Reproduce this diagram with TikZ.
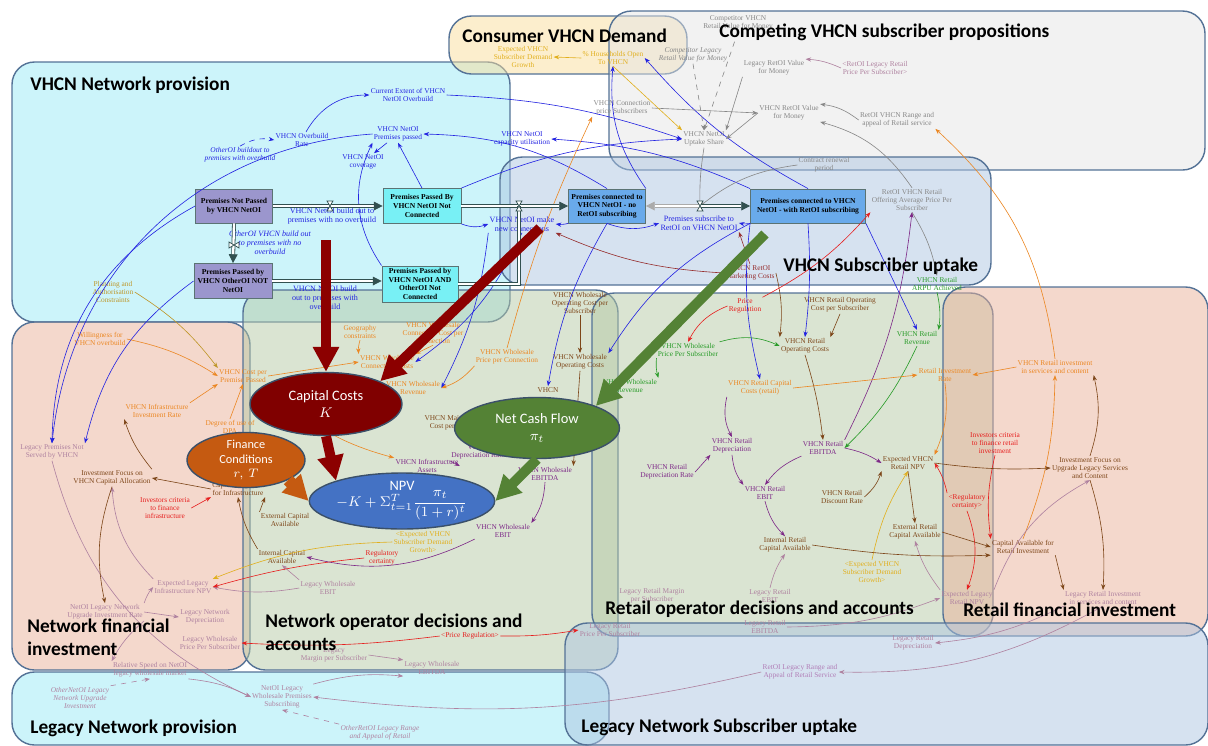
\documentclass[tikz,border=0pt]{standalone}
\usepackage{fontspec}
\usepackage{amsmath}
\setmainfont{Liberation Serif}
\newfontfamily\titlefont{Carlito}
\usetikzlibrary{shapes.geometric,arrows.meta}

\definecolor{provcyan}{RGB}{153,233,245}
\definecolor{demandtan}{RGB}{249,221,155}
\definecolor{compgray}{RGB}{229,229,229}
\definecolor{uptakeblue}{RGB}{173,197,225}
\definecolor{finsalmon}{RGB}{233,177,153}
\definecolor{opsgreen}{RGB}{181,201,165}
\definecolor{secline}{RGB}{84,114,150}
\definecolor{vblue}{RGB}{35,35,225}
\definecolor{vorange}{RGB}{235,135,35}
\definecolor{vbrown}{RGB}{125,70,25}
\definecolor{vpurple}{RGB}{125,40,135}
\definecolor{vgray}{RGB}{135,135,135}
\definecolor{vpink}{RGB}{175,130,160}
\definecolor{vred}{RGB}{230,30,30}
\definecolor{vgreen}{RGB}{40,155,40}
\definecolor{vyellow}{RGB}{225,175,30}
\definecolor{volive}{RGB}{190,150,40}
\definecolor{vdred}{RGB}{150,45,45}
\definecolor{capred}{RGB}{128,0,0}
\definecolor{arrowred}{RGB}{140,0,0}
\definecolor{cashgreen}{RGB}{84,130,53}
\definecolor{npvblue}{RGB}{68,114,196}
\definecolor{finorange}{RGB}{197,90,17}
\definecolor{stockpurple}{RGB}{155,150,205}
\definecolor{stockcyan}{RGB}{120,240,245}
\definecolor{stockblue}{RGB}{105,170,235}
\definecolor{pipeline}{RGB}{50,80,80}

\newcommand\varsize{\fontsize{4.2}{4.7}\selectfont}

\tikzset{
  valve/.pic={\draw[pipeline, fill=white, line width=0.4pt] (-3,-5) -- (3,-5) -- (-3,5) -- (3,5) -- cycle;}
}

\begin{document}
\begin{tikzpicture}[x=0.02cm, y=-0.02cm,
    sector/.style={draw=secline, line width=0.8pt, rounded corners=0.45cm, fill opacity=0.5},
    var/.style={font=\varsize, align=center, inner sep=0.6pt},
    ivar/.style={var, font=\varsize\itshape},
    flowlbl/.style={var, text=vblue, font=\fontsize{4.6}{5.2}\selectfont},
    stock/.style={draw=pipeline!80, line width=0.5pt, font=\bfseries\fontsize{4.3}{5}\selectfont, align=center, inner sep=1pt},
    pipe/.style={draw=pipeline, double=white, double distance=1.3pt, line width=0.45pt, -{Triangle[length=5pt,width=5pt]}},
    link/.style={line width=0.35pt, -{Stealth[length=3.2pt,width=2.4pt]}},
    factor/.style={ellipse, draw=secline!70!black, line width=0.8pt, text=white, font=\titlefont\fontsize{8.2}{9.8}\selectfont, align=center, inner sep=0pt},
    bigarrow/.style={line width=0.2cm, -{Triangle[length=0.5cm,width=0.5cm]}},
    sectortitle/.style={font=\titlefont\bfseries\fontsize{11}{13}\selectfont, anchor=west, align=left, inner sep=0pt}]
   \useasboundingbox (0,0) rectangle (1208,745);

   % sectors
   \draw[sector, fill=provcyan] (12,62) rectangle (510,322);
   \draw[sector, fill=demandtan] (449,16) rectangle (687,74);
   \draw[sector, fill=compgray] (609,11) rectangle (1205,170);
   \draw[sector, fill=uptakeblue] (500,157) rectangle (991,285);
   \draw[sector, fill=finsalmon] (12,322) rectangle (250,670);
   \draw[sector, fill=opsgreen] (243,290) rectangle (618,670);
   \draw[sector, fill=opsgreen] (592,293) rectangle (993,636);
   \draw[sector, fill=finsalmon] (943,287) rectangle (1208,636);
   \draw[sector, fill=provcyan] (12,672) rectangle (609,745);
   \draw[sector, fill=uptakeblue] (565,623) rectangle (1208,745);

   % VHCN network provision
   \node[var, text=vblue] (extent) at (408,95) {Current Extent of VHCN\\NetOI Overbuild};
   \node[var, text=vblue] (ovrate) at (302,140) {VHCN Overbuild\\Rate};
   \node[var, text=vblue] (passed) at (398,134) {VHCN NetOI\\Premises passed};
   \node[var, text=vblue] (coverage) at (363,162) {VHCN NetOI\\coverage};
   \node[var, text=vblue] (capacity) at (522,139) {VHCN NetOI\\capacity utilisation};
   \node[ivar, text=vblue] (otherover) at (240,155) {OtherOI buildout to\\premises with overbuild};
   \node[flowlbl] (buildno) at (332,216) {VHCN NetOI build out to\\premises with no overbuild};
   \node[flowlbl, font=\fontsize{4.6}{5.2}\selectfont\itshape] (otherno) at (270,243) {OtherOI VHCN build out\\to premises with no\\overbuild};
   \node[flowlbl] (buildover) at (325,298) {VHCN NetOI build\\out to premises with\\overbuild};
   \node[flowlbl] (makenew) at (522,224) {VHCN NetOI make\\new connections};
   \node[flowlbl] (subscribe) at (699,223) {Premises subscribe to\\RetOI on VHCN NetOI};
   \node[var, text=volive] (planning) at (113,292) {Planning and\\Authorisation\\Constraints};

   % consumer demand and competing propositions
   \node[var, text=vyellow] (growth) at (523,57) {Expected VHCN\\Subscriber Demand\\Growth};
   \node[var, text=vyellow] (households) at (613,58) {\% Households Open\\To VHCN};
   \node[var, text=vgray] (compvhcn) at (738,23) {Competitor VHCN\\Retail Value for Money};
   \node[ivar, text=vgray] (complegacy) at (693,55) {Competitor Legacy\\Retail Value for Money};
   \node[var, text=vgray] (legvalue) at (774,68) {Legacy RetOI Value\\for Money};
   \node[var, text=vpink] (legprice) at (875,68) {<RetOI Legacy Retail\\Price Per Subscriber>};
   \node[var, text=vgray] (connprice) at (622,108) {VHCN Connection\\price Subscribers};
   \node[var, text=vgray] (retvalue) at (789,113) {VHCN RetOI Value\\for Money};
   \node[var, text=vgray] (range) at (897,120) {RetOI VHCN Range and\\appeal of Retail service};
   \node[var, text=vgray] (share) at (704,139) {VHCN NetOI\\Uptake Share};

   % subscriber uptake
   \node[var, text=vgray] (renewal) at (824,165) {Contract renewal\\period};
   \node[var, text=vgray] (offering) at (912,200) {RetOI VHCN Retail\\Offering Average Price Per\\Subscriber};
   \node[var, text=vdred] (marketing) at (750,273) {VHCN RetOI\\Marketing Costs};
   \node[var, text=vgreen] (arpu) at (937,284) {VHCN Retail\\ARPU Achieved};

   % network financial investment
   \node[var, text=vorange] (willing) at (100,339) {Willingness for\\VHCN overbuild};
   \node[var, text=vorange] (costpp) at (243,376) {VHCN Cost per\\Premise Passed};
   \node[var, text=vorange] (invrate) at (157,411) {VHCN Infrastructure\\Investment Rate};
   \node[var, text=vorange] (dpa) at (230,427) {Degree of use of\\DPA};
   \node[var, text=vpink] (legnot) at (52,452) {Legacy Premises Not\\Served by VHCN};
   \node[var, text=vbrown] (focusvhcn) at (112,478) {Investment Focus on\\VHCN Capital Allocation};
   \node[var, text=vbrown] (capinfra) at (238,489) {Capital Available\\for Infrastructure};
   \node[var, text=vred] (critinfra) at (165,508) {Investors criteria\\to finance\\infrastructure};
   \node[var, text=vbrown] (extcap) at (285,520) {External Capital\\Available};
   \node[var, text=vbrown] (intcap) at (282,557) {Internal Capital\\Available};
   \node[var, text=vpink] (leginfnpv) at (183,587) {Expected Legacy\\Infrastructure NPV};
   \node[var, text=vpink] (legupgrade) at (105,612) {NetOI Legacy Network\\Upgrade Investment Rate};
   \node[var, text=vpink] (legdep) at (205,617) {Legacy Network\\Depreciation};
   \node[var, text=vpink] (legwprice) at (210,643) {Legacy Wholesale\\Price Per Subscriber};
   \node[var, text=vpink] (relspeed) at (150,670) {Relative Speed on NetOI\\legacy wholesale market};

   % legacy network provision
   \node[ivar, text=vpink] (othernet) at (80,698) {OtherNetOI Legacy\\Network Upgrade\\Investment};
   \node[var, text=vpink] (legsubs) at (282,697) {NetOI Legacy\\Wholesale Premises\\Subscribing};
   \node[ivar, text=vpink] (otherret) at (380,733) {OtherRetOI Legacy Range\\and Appeal of Retail};

   % network operator decisions
   \node[var, text=vorange] (geo) at (360,332) {Geography\\constraints};
   \node[var, text=vorange] (conncostper) at (433,333) {VHCN Wholesale\\Connection Cost per\\Connection};
   \node[var, text=vorange] (conncost) at (387,362) {VHCN Wholesale\\Connection Costs};
   \node[var, text=vorange] (wrev) at (413,388) {VHCN Wholesale\\Revenue};
   \node[var, text=vorange] (wpriceconn) at (507,357) {VHCN Wholesale\\Price per Connection};
   \node[var, text=vbrown] (wopcostper) at (580,303) {VHCN Wholesale\\Operating Cost per\\Subscriber};
   \node[var, text=vbrown] (wopcost) at (580,362) {VHCN Wholesale\\Operating Costs};
   \node[var, text=vbrown] (wvhcn) at (548,390) {VHCN};
   \node[var, text=vbrown] (maint) at (455,423) {VHCN Maintenance\\Cost per Premise};
   \node[var, text=vpurple] (deprate) at (478,452) {VHCN\\Depreciation Rate};
   \node[var, text=vpurple] (assets) at (427,466) {VHCN Infrastructure\\Assets};
   \node[var, text=vpurple] (webitda) at (545,474) {VHCN Wholesale\\EBITDA};
   \node[var, text=vpurple] (webit) at (503,531) {VHCN Wholesale\\EBIT};
   \node[var, text=vyellow] (growthnet) at (423,542) {<Expected VHCN\\Subscriber Demand\\Growth>};
   \node[var, text=vred] (regcert) at (382,558) {Regulatory\\certainty};
   \node[var, text=vpink] (legwebit) at (328,588) {Legacy Wholesale\\EBIT};
   \node[var, text=vpink] (legmargin) at (334,655) {Legacy\\Margin per Subscriber};
   \node[var, text=vpink] (legwebitda) at (432,668) {Legacy Wholesale\\EBITDA};
   \node[var, text=vred] (pricereg) at (470,636) {<Price Regulation>};

   % retail operator decisions
   \node[var, text=vred] (pricerg) at (745,306) {Price\\Regulation};
   \node[var, text=vbrown] (ropcostper) at (840,305) {VHCN Retail Operating\\Cost per Subscriber};
   \node[var, text=vgreen] (wpricesub) at (688,350) {VHCN Wholesale\\Price Per Subscriber};
   \node[var, text=vbrown] (ropcost) at (805,346) {VHCN Retail\\Operating Costs};
   \node[var, text=vgreen] (rrev) at (917,338) {VHCN Retail\\Revenue};
   \node[var, text=vgreen] (wrevret) at (630,386) {VHCN Wholesale\\Revenue};
   \node[var, text=vorange] (rcapcost) at (760,388) {VHCN Retail Capital\\Costs (retail)};
   \node[var, text=vorange] (rinvrate) at (945,375) {Retail Investment\\Rate};
   \node[var, text=vpurple] (rdep) at (732,446) {VHCN Retail\\Depreciation};
   \node[var, text=vpurple] (rebitda) at (823,448) {VHCN Retail\\EBITDA};
   \node[var, text=vpurple] (rdeprate) at (667,472) {VHCN Retail\\Depreciation Rate};
   \node[var, text=vpurple] (rebit) at (765,493) {VHCN Retail\\EBIT};
   \node[var, text=vbrown] (rnpv) at (908,463) {Expected VHCN\\Retail NPV};
   \node[var, text=vbrown] (rdisc) at (842,497) {VHCN Retail\\Discount Rate};
   \node[var, text=vred] (rregcert) at (967,502) {<Regulatory\\certainty>};
   \node[var, text=vbrown] (rextcap) at (915,532) {External Retail\\Capital Available};
   \node[var, text=vbrown] (rintcap) at (785,545) {Internal Retail\\Capital Available};
   \node[var, text=vyellow] (rgrowth) at (872,572) {<Expected VHCN\\Subscriber Demand\\Growth>};
   \node[var, text=vpink] (legrmargin) at (652,596) {Legacy Retail Margin\\per Subscriber};
   \node[var, text=vpink] (legrebit) at (770,596) {Legacy Retail\\EBIT};
   \node[var, text=vpink] (legrprice) at (610,630) {Legacy Retail\\Price Per Subscriber};
   \node[var, text=vpink] (legrebitda) at (765,627) {Legacy Retail\\EBITDA};
   \node[var, text=vpink] (legrdep) at (913,643) {Legacy Retail\\Depreciation};
   \node[var, text=vpurple!60] (legrange) at (800,672) {RetOI Legacy Range and\\Appeal of Retail Service};

   % retail financial investment
   \node[var, text=vorange] (rinvest) at (1055,367) {VHCN Retail investment\\in services and content};
   \node[var, text=vred] (rcrit) at (995,443) {Investors criteria\\to finance retail\\investment};
   \node[var, text=vbrown] (rfocus) at (1090,468) {Investment Focus on\\Upgrade Legacy Services\\and Content};
   \node[var, text=vbrown] (rcapavail) at (1023,547) {Capital Available for\\Retail Investment};
   \node[var, text=vpink] (legrinvest) at (1103,598) {Legacy Retail Investment\\in services and content};
   \node[var, text=vpink] (legrnpv) at (967,598) {Expected Legacy\\Retail NPV};

   % stocks
   \node[stock, fill=stockpurple, minimum width=1.54cm, minimum height=0.68cm] (notpassed) at (234,206) {Premises Not Passed\\by VHCN NetOI};
   \node[stock, fill=stockpurple, minimum width=1.56cm, minimum height=0.70cm] (otherpassed) at (233,281) {Premises Passed by\\VHCN OtherOI NOT\\NetOI};
   \node[stock, fill=stockcyan, minimum width=1.56cm, minimum height=0.70cm] (notconn) at (422,206) {Premises Passed By\\VHCN NetOI Not\\Connected};
   \node[stock, fill=stockcyan, minimum width=1.52cm, minimum height=0.72cm] (bothnotconn) at (420,284) {Premises Passed by\\VHCN NetOI AND\\OtherOI Not\\Connected};
   \node[stock, fill=stockblue, minimum width=1.54cm, minimum height=0.68cm] (connoret) at (607,206) {Premises connected to\\VHCN NetOI - no\\RetOI subscribing};
   \node[stock, fill=stockblue, minimum width=2.3cm, minimum height=0.68cm] (conwith) at (808,206) {Premises connected to VHCN\\NetOI - with RetOI subscribing};

   \coordinate (bvalve) at (330,206);
   \coordinate (ovalve) at (234,245);
   \coordinate (mkvalve) at (519,206);
   \coordinate (subvalve) at (700,206);

   % links
   \draw[link, vblue] (ovrate) to[bend left=30] (extent.west);
   \draw[link, vblue] (passed) to (coverage);
   \draw[link, vblue] (extent.east) to[bend left=8] (share.west);
   \draw[link, vblue] (conwith.north west) to[bend right=10] (capacity.east);
   \draw[link, vblue] (connoret.north) to[bend right=15] (passed.east);
   \draw[link, vblue] (notconn.north) to (passed.south);
   \draw[link, vblue] (bothnotconn.north west) to[bend left=30] (passed.south west);
   \draw[link, vblue] (notconn.south east) to[bend right=20] (makenew.west);
   \draw[link, vblue] (connoret.south west) to[bend left=10] (makenew.east);
   \draw[link, vblue] (connoret.south) to[bend right=20] (subscribe.west);
   \draw[link, vblue] (conwith.south west) to[bend left=10] (subscribe.east);
   \draw[link, vblue] (passed.west) to[bend right=40] (legnot.north);
   \draw[link, vblue] (notpassed.west) to[bend right=30] (legnot.north);
   \draw[link, vblue] (otherpassed.west) to[bend right=20] (legnot.north east);
   \draw[link, vblue, dashed] (otherover.north) to[bend left=20] (ovrate.west);
   \draw[link, vblue] (connoret.north east) to[bend left=20] (households.south);
   \draw[link, vblue] (conwith.north) to[bend left=10] (households.east);
   \draw[link, vblue] (notconn.north east) to[bend left=10] (share.west);
   \draw[link, vblue] (conwith.south) to[bend left=5] (ropcost.north);
   \draw[link, vblue] (conwith.south east) to (rrev.north);
   \draw[link, vblue] (conwith.south west) to[bend right=10] (rcapcost.north);
   \draw[link, vblue] (connoret.south) to[bend right=10] (wvhcn.north);
   \draw[link, vblue] (conwith.south west) to[bend right=15] (wopcost.north east);
   \draw[link, vblue] (makenew.south) to[bend left=15] (conncost.east);
   \draw[link, vblue] (makenew.south west) to[bend left=10] (wrev.east);

   \draw[link, vgray, dashed] (compvhcn.south) to (share.north);
   \draw[link, vgray, dashed] (complegacy.south) to (share.north);
   \draw[link, vgray] (legvalue.south west) to (share.north east);
   \draw[link, vgray] (retvalue.west) to (share.east);
   \draw[link, vgray] (connprice.east) to (retvalue.west);
   \draw[link, vgray] (range.west) to[bend right=15] (retvalue.north east);
   \draw[link, vgray] (offering.north) to[bend right=20] (retvalue.south east);
   \draw[link, vgray] (offering.south) to[bend left=10] (arpu.north);
   \draw[link, vgray] (share.south) to[bend right=5] (subvalve);
   \draw[link, vgray] (renewal.west) to[bend right=15] (subvalve);
   \draw[link, vpink] (legprice.west) to[bend right=10] (legvalue.north east);
   \draw[link, vyellow] (households.west) to (growth.east);
   \draw[link, vyellow] (households.south) to (share.north west);
   \draw[link, vorange] (rinvest.north) to[bend right=20] (range.south east);
   \draw[link, vorange] (wpriceconn.north) to[bend left=5] (connprice.south west);

   \draw[link, vdred] (marketing.west) to[bend left=10] (makenew.south east);
   \draw[link, vdred] (marketing.north) to (subscribe.south east);
   \draw[link, vbrown] (marketing.east) to[bend left=10] (ropcost.north west);
   \draw[link, vred] (pricerg.north east) to[bend right=10] (offering.south west);
   \draw[link, vred] (pricerg.west) to[bend right=20] (wpricesub.north);
   \draw[link, vgreen] (wpricesub.north east) to[bend left=20] (ropcost.west);
   \draw[link, vgreen] (wpricesub.south west) to[bend right=10] (wrevret.north east);
   \draw[link, vbrown] (ropcostper.south) to (ropcost.north east);
   \draw[link, vgreen] (arpu.south) to[bend left=10] (rrev.north east);
   \draw[link, vgreen] (rrev.south) to[bend left=10] (rebitda.east);
   \draw[link, vbrown] (ropcost.south) to[bend left=5] (rebitda.north);
   \draw[link, vpurple] (rcapcost.south west) to[bend right=20] (rdep.north);
   \draw[link, vpurple] (rdeprate.east) to (rdep.south west);
   \draw[link, vpurple] (rdep.south) to[bend right=15] (rebit.north west);
   \draw[link, vpurple] (rebitda.south west) to[bend right=15] (rebit.north);
   \draw[link, vpurple] (rebitda.east) to[bend left=10] (rnpv.west);
   \draw[link, vpurple] (rebitda.north east) to[bend right=10] (offering.south);
   \draw[link, vpurple] (rebit.south) to[bend right=15] (rintcap.north);
   \draw[link, vbrown] (rdisc.east) to[bend right=15] (rnpv.south west);
   \draw[link, vyellow] (rgrowth.north) to[bend left=10] (rnpv.south);
   \draw[link, vred] (rregcert.north west) to[bend right=10] (rnpv.east);
   \draw[link, vbrown] (rnpv.south) to (rextcap.north);
   \draw[link, vorange] (rcapcost.east) to (rinvrate.west);
   \draw[link, vorange] (rinvrate.south) to[bend left=15] (rnpv.north east);
   \draw[link, vorange] (rinvest.west) to (rinvrate.east);
   \draw[link, vorange] (rcapavail.north) to[bend right=10] (rinvest.south);
   \draw[link, vbrown] (rfocus.north) to[bend right=15] (rinvest.south east);
   \draw[link, vbrown] (rfocus.south) to[bend left=10] (legrinvest.north);
   \draw[link, vbrown] (rcapavail.south east) to (legrinvest.north west);
   \draw[link, vred] (rcrit.south) to[bend right=10] (rcapavail.north west);
   \draw[link, vred] (rregcert.south) to[bend left=20] (legrnpv.north);
   \draw[link, vbrown] (rextcap.east) to (rcapavail.west);
   \draw[link, vbrown] (rintcap.east) to[bend right=5] (rcapavail.south west);
   \draw[link, vbrown] (rnpv.east) to[bend right=5] (rfocus.west);
   \draw[link, vpink] (legrnpv.north east) to[bend left=20] (rfocus.south);
   \draw[link, vpink] (legrinvest.south) to[bend left=15] (legrange.east);
   \draw[link, vpink] (legrebitda.east) to[bend right=10] (legrnpv.west);
   \draw[link, vpink] (legrinvest.south west) to[bend left=10] (legrdep.east);
   \draw[link, vpink] (legrebit.north) to[bend left=10] (rintcap.south);
   \draw[link, vpink] (legrnpv.north west) to[bend left=10] (rextcap.south);
   \draw[link, vpink] (legrange.west) to[bend left=10] (legsubs.east);

   \draw[link, vred] (pricereg.east) to[bend right=5] (legrprice.west);
   \draw[link, vred] (pricereg.west) to[bend left=5] (legwprice.east);
   \draw[link, vpink] (legsubs.north east) to[bend left=10] (legwebitda.south west);
   \draw[link, vpink] (legmargin.east) to (legwebitda.north west);
   \draw[link, vpink] (relspeed.south east) to[bend left=10] (legsubs.west);
   \draw[link, vpink, dashed] (othernet.north east) to (relspeed.south);
   \draw[link, vpink, dashed] (otherret.north west) to (legsubs.south);
   \draw[link, vpink] (legupgrade.east) to (legdep.west);
   \draw[link, vpink] (legupgrade.south east) to[bend right=10] (relspeed.north west);
   \draw[link, vpink] (legupgrade.north east) to[bend left=10] (leginfnpv.west);
   \draw[link, vpink] (legwebit.west) to[bend left=10] (leginfnpv.east);
   \draw[link, vpink] (leginfnpv.north west) to[bend left=20] (focusvhcn.south);
   \draw[link, vpink] (legnot.south) to[bend right=25] (legsubs.west);
   \draw[link, vpink] (legwebit.north west) to (intcap.south);

   \draw[link, vorange] (willing.east) to[bend left=10] (costpp.west);
   \draw[link, volive] (planning.east) to[bend left=10] (costpp.north west);
   \draw[link, vorange] (dpa.north) to (costpp.south);
   \draw[link, vorange] (invrate.north east) to (costpp.south west);
   \draw[link, vorange] (geo.south) to[bend right=10] (conncost.north west);
   \draw[link, vorange] (conncostper.south) to (conncost.north east);
   \draw[link, vorange] (wpriceconn.south west) to[bend left=15] (wrev.east);
   \draw[link, vorange] (costpp.east) to (conncost.west);
   \draw[link, vorange] (costpp.south east) to[bend right=15] (assets.north west);
   \draw[link, vbrown] (focusvhcn.north east) to[bend left=10] (invrate.south west);
   \draw[link, vbrown] (focusvhcn.south) to[bend right=15] (legupgrade.north);
   \draw[link, vbrown] (capinfra.west) to (focusvhcn.east);
   \draw[link, vred] (critinfra.east) to (capinfra.south west);
   \draw[link, vbrown] (extcap.north west) to (capinfra.south east);
   \draw[link, vbrown] (intcap.north west) to[bend left=10] (capinfra.south);
   \draw[link, vred] (regcert.west) to[bend right=5] (leginfnpv.east);
   \draw[link, vyellow] (growthnet.west) to[bend right=10] (leginfnpv.north east);
   \draw[link, vpurple] (webit.south west) to[bend left=20] (intcap.east);
   \draw[link, vpurple] (webitda.south) to[bend left=15] (webit.north east);
   \draw[link, vpurple] (deprate.south west) to (assets.east);
   \draw[link, vbrown] (wopcostper.south) to (wopcost.north);
   \draw[link, vbrown] (wopcost.south) to (webitda.north east);

   % flows
   \draw[pipe] (notpassed.east) -- (notconn.west);
   \draw[pipe] (notpassed.south) -- (otherpassed.north);
   \draw[pipe] (otherpassed.east) -- (bothnotconn.west |- otherpassed.east);
   \draw[pipe] (notconn.east) -- (connoret.west);
   \draw[pipe, -] (bothnotconn.east) -| (mkvalve);
   \draw[pipe] (subvalve) -- (conwith.west);
   \draw[pipe, draw=vgray!70] (subvalve) -- (connoret.east);
   \pic at (bvalve) {valve};
   \pic[rotate=90] at (ovalve) {valve};
   \pic at (mkvalve) {valve};
   \pic at (subvalve) {valve};

   % main drivers
   \node[factor, fill=capred, minimum width=3.04cm, minimum height=1.26cm] (capital) at (326,404) {Capital Costs\\$K$};
   \node[factor, fill=cashgreen, minimum width=3.3cm, minimum height=1.22cm] (cashflow) at (537,428) {Net Cash Flow\\$\pi_t$};
   \node[factor, fill=npvblue, minimum width=3.3cm, minimum height=1.12cm] (npv) at (402,501) {NPV\\[-1pt] $-K+\Sigma_{t=1}^{T}\dfrac{\pi_t}{(1+r)^t}$};
   \node[factor, fill=finorange, minimum width=2.36cm, minimum height=0.88cm, font=\titlefont\fontsize{7}{8}\selectfont] (finance) at (246,460) {Finance\\Conditions\\$r,\,T$};

   \coordinate (redtop) at (326,240);
   \coordinate (redslant) at (540,228);
   \coordinate (greenslant) at (765,234);
   \draw[bigarrow, arrowred] (redtop) -- (capital.north);
   \draw[bigarrow, arrowred] (redslant) -- (capital.north east);
   \draw[bigarrow, arrowred] (capital.south) -- (npv.north west);
   \draw[bigarrow, cashgreen] (greenslant) -- (cashflow.north east);
   \draw[bigarrow, cashgreen] (cashflow.south) -- (npv.east);
   \draw[bigarrow, finorange, line width=0.24cm] (finance.south east) -- (npv.west);

   % sector titles
   \node[sectortitle] (tprov) at (30,85) {VHCN Network provision};
   \node[sectortitle] (tdemand) at (462,36) {Consumer VHCN Demand};
   \node[sectortitle] (tcomp) at (719,32) {Competing VHCN subscriber propositions};
   \node[sectortitle] (tuptake) at (783,266) {VHCN Subscriber uptake};
   \node[sectortitle] (tnetfin) at (27,637) {Network financial\\investment};
   \node[sectortitle] (tnetops) at (265,632) {Network operator decisions and\\accounts};
   \node[sectortitle] (tretops) at (605,609) {Retail operator decisions and accounts};
   \node[sectortitle] (tretfin) at (963,610) {Retail financial investment};
   \node[sectortitle] (tlegprov) at (30,728) {Legacy Network provision};
   \node[sectortitle] (tleguptake) at (581,727) {Legacy Network Subscriber uptake};
 \end{tikzpicture}
\end{document}
